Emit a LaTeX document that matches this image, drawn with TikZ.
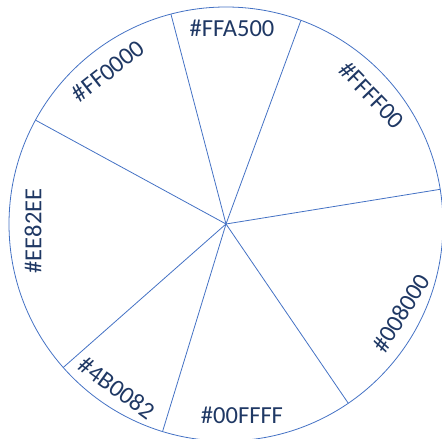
\documentclass[tikz,border=0pt]{standalone}
\usepackage{fontspec}
\setmainfont{Carlito}
\usetikzlibrary{positioning}
\definecolor{wheelline}{RGB}{68,114,196}
\definecolor{wheeltext}{RGB}{31,56,100}

\begin{document}
\begin{tikzpicture}[
  x=1pt, y=1pt,
  rim/.style={draw=wheelline, line width=0.8pt},
  spoke/.style={draw=wheelline, line width=0.8pt},
  hexlbl/.style={text=wheeltext, font=\fontsize{24.5}{28}\selectfont, inner sep=0pt},
]
\useasboundingbox (0,0) rectangle (442,439);

% ---------- wheel ----------
\coordinate (hub) at (226,215);
\draw[rim] (hub) circle[radius=217];
\foreach \a in {104.7,69.8,9.2,-55.7,-107,221.4,151.4}{
  \draw[spoke] (hub) -- ++(\a:217);
}

% ---------- sector labels ----------
\node[hexlbl]              (orange) at (232,411) {\#FFA500};
\node[hexlbl, rotate=-46]  (yellow) at (372,344) {\#FFFF00};
\node[hexlbl, rotate=38]   (red)    at (108,368) {\#FF0000};
\node[hexlbl, rotate=90]   (violet) at (33,208)  {\#EE82EE};
\node[hexlbl, rotate=-36]  (indigo) at (117,51)  {\#4B0082};
\node[hexlbl]              (cyan)   at (242,24)  {\#00FFFF};
\node[hexlbl, rotate=58]   (green)  at (401,126) {\#008000};

\end{tikzpicture}
\end{document}
